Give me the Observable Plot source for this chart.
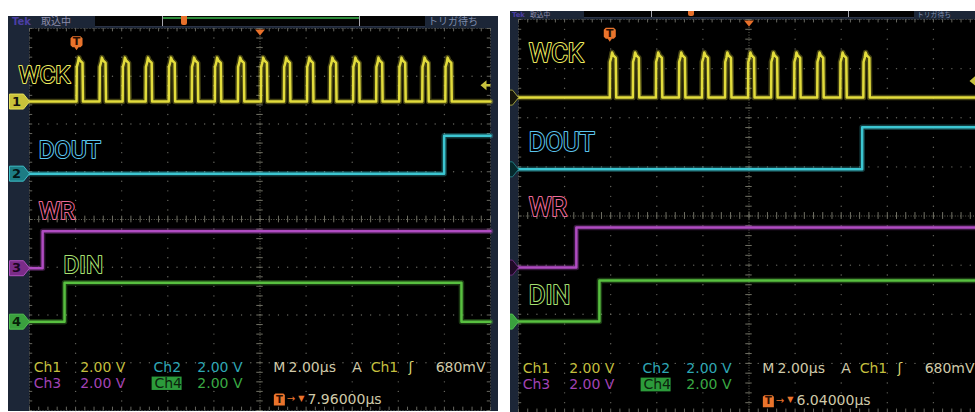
<!DOCTYPE html>
<html><head><meta charset="utf-8">
<script src="https://cdn.jsdelivr.net/npm/d3@7"></script>
<script src="https://cdn.jsdelivr.net/npm/@observablehq/plot@0.6"></script>
<style>
body{margin:0;background:#fff;}
#root{position:relative;width:975px;height:412px;overflow:hidden;background:#fff;}
.clip{position:absolute;overflow:hidden;}
.scope{position:absolute;background:#1c2637;width:492px;}
.scope svg{position:absolute;left:0;top:0;}
.hdr{position:absolute;left:0;top:0;width:492px;overflow:hidden;}
.hdr span{position:absolute;top:0;white-space:nowrap;font-family:"DejaVu Sans","Noto Sans CJK JP";}
.tek{font-weight:bold;color:#4b3ea3;}
.acq{color:#8c8caa;}
.wait{left:420px;color:#7d8bab;}
.box{position:absolute;left:87px;top:0;width:330px;background:#030303;border-bottom:1px solid #2b3346;}
.brk{position:absolute;top:0;width:1px;background:#a8a8b0;}
.grn{position:absolute;left:154px;top:1px;width:198px;height:2px;background:#2f8c3c;}
.omark{position:absolute;top:0;width:6px;background:#e8702a;border-radius:0 0 2px 2px;}
</style>
</head><body>
<div id="root"></div>
<script>
// ---------- data (times in µs relative to trigger, levels in volts) ----------
const timePerDiv = 2;                 // µs / div
const voltsPerDiv = 2;                // V / div (all channels)
const triggerDelayLeft = 7.96;        // µs
const triggerDelayRight = 6.04;       // µs
const triggerLevel = 0.68;            // V on Ch1

const signalNames = ["WCK", "DOUT", "WR", "DIN"];
const channelColors = ["#e2dc3c", "#3cc6d2", "#b04cc2", "#58c040"];
const labelColors = ["#ecea5c", "#5ac4ee", "#ee6a98", "#a6e070"];

// WCK rising edges (µs)
const wckRiseLeft = [0, 1, 2, 3, 4, 5, 6, 7, 8, 9, 10, 11, 12, 13, 14, 15, 16];
const wckRiseRight = [0, 1, 2, 3, 4, 5, 6, 7, 8, 9, 10, 11];
// one WCK pulse: [µs after edge, volts]
const wckPulseShape = [[0, 0], [0.01, 1.45], [0.06, 1.62], [0.1, 1.84], [0.15, 1.72], [0.26, 1.62], [0.28, 0]];

// step signals: [time µs, level V]
const doutLeft = [[-2.04, 0], [15.95, 1.59], [17.96, 1.59]];
const wrLeft = [[-2.04, 0], [-1.47, 1.55], [17.96, 1.55]];
const dinLeft = [[-2.04, 0], [-0.52, 1.63], [16.7, 0], [17.96, 0]];
const doutRight = [[-3.96, 0], [10.95, 1.71], [16.04, 1.71]];
const wrRight = [[-3.96, 0], [-1.45, 1.63], [16.04, 1.63]];
const dinRight = [[-3.96, 0], [-0.45, 1.67], [16.04, 1.67]];

// channel ground positions (divisions from screen centre): Ch1..Ch4
const channelOffsetsLeft = [2.47, 0.96, -1.02, -2.14];
const channelOffsetsRight = [2.41, 0.95, -1.05, -2.15];

// signal name labels: [screen div from left, div from centre]
const labelPosLeft = [[-0.24, 3.02], [0.2, 1.45], [0.2, 0.17], [0.74, -0.96]];
const labelPosRight = [[0.22, 3.3], [0.22, 1.48], [0.22, 0.17], [0.22, -1.62]];

// readout texts: [screen div x, div y, text, colour]
const readoutTexts = [
  [0.09, -3.11, "Ch1", "#c4bf3e"], [1.1, -3.11, "2.00 V", "#c4bf3e"],
  [0.09, -3.44, "Ch3", "#a243b4"], [1.1, -3.44, "2.00 V", "#a243b4"],
  [2.69, -3.11, "Ch2", "#2ea6b4"], [3.64, -3.11, "2.00 V", "#2ea6b4"],
  [2.71, -3.44, "Ch4", "#0b230c"], [3.64, -3.44, "2.00 V", "#3aa944"],
  [5.29, -3.11, "M", "#cfc9a8"], [5.62, -3.11, "2.00µs", "#cfc9a8"],
  [7.0, -3.11, "A", "#cfc9a8"], [7.4, -3.11, "Ch1", "#c4bf3e"],
  [8.22, -3.11, "ʃ", "#d8d070"], [8.81, -3.11, "680mV", "#cfc9a8"]
];

// ---------- custom symbols ----------
const symChMarker = {draw(c) { c.moveTo(-20, -7.5); c.lineTo(-6, -7.5); c.lineTo(0, 0); c.lineTo(-6, 7.5); c.lineTo(-20, 7.5); c.closePath(); }};
const symTrigLevel = {draw(c) { c.moveTo(-10, 0); c.lineTo(-4, -5); c.lineTo(-4, -1.2); c.lineTo(0, -1.2); c.lineTo(0, 1.2); c.lineTo(-4, 1.2); c.lineTo(-4, 5); c.closePath(); }};
const symTopTri = {draw(c) { c.moveTo(-5, 0); c.lineTo(5, 0); c.lineTo(0, 6); c.closePath(); }};
const symTBox = {draw(c) { c.moveTo(-4, -6); c.lineTo(4, -6); c.lineTo(6, -4); c.lineTo(6, 3); c.lineTo(4, 5); c.lineTo(2, 5); c.lineTo(0, 8); c.lineTo(-2, 5); c.lineTo(-4, 5); c.lineTo(-6, 3); c.lineTo(-6, -4); c.closePath(); }};
const symTBoxSmall = {draw(c) { c.moveTo(-4, -6); c.lineTo(4, -6); c.lineTo(5.5, -4.5); c.lineTo(5.5, 6); c.lineTo(-5.5, 6); c.lineTo(-5.5, -4.5); c.closePath(); }};

const panels = [
  {clip: [8, 16, 490, 396], inner: [0, 0], hdrH: 12, gridH: 382, delay: triggerDelayLeft,
   offsets: channelOffsetsLeft, rises: wckRiseLeft, steps: [doutLeft, wrLeft, dinLeft],
   labelPos: labelPosLeft, labelSize: 24, hdrMarker: 173, hdrFont: 10, tekLeft: 4, acqLeft: 33, green: true,
   markerFill: ["#c9c23a", "#1d7c84", "#7a2c88", "#3aa03e"], markerStroke: ["#e6e05a", "#3dbfc8", "#b050c0", "#50c050"],
   markerText: ["1", "2", "3", "4"], markerTextFill: ["#111", "#041416", "#1a0620", "#082008"]},
  {clip: [510, 11, 465, 401], inner: [-13, 0], hdrH: 8, gridH: 393, delay: triggerDelayRight,
   offsets: channelOffsetsRight, rises: wckRiseRight, steps: [doutRight, wrRight, dinRight],
   labelPos: labelPosRight, labelSize: 25.5, hdrMarker: 191, hdrFont: 6.8, tekLeft: 15, acqLeft: 33, green: false,
   markerFill: ["#15150a", "#06282c", "#1f0a26", "#3aa03e"], markerStroke: ["#9a9a3a", "#1f7a80", "#6a2a7a", "#50c050"],
   markerText: null}
];

function build(p) {
  const H = p.hdrH + p.gridH + 1;
  const tLeft = p.delay - 5 * timePerDiv;
  const tRight = tLeft + 10 * timePerDiv;
  const X = d => tLeft + timePerDiv * d;
  const off = p.offsets;
  const V = (ch, v) => off[ch] + v / voltsPerDiv;

  const minorX = d3.range(0, 51).map(i => i / 5);
  const minorY = d3.range(-20, 21).map(i => i / 5);
  const gridDots = [];
  for (const gx of [1, 2, 3, 4, 6, 7, 8, 9]) for (const gy of minorY) gridDots.push([gx, gy]);
  for (const gy of [-3, -2, -1, 1, 2, 3]) for (const gx of minorX) gridDots.push([gx, gy]);

  const wckPts = [[tLeft, 0]];
  for (const r of p.rises) for (const [dt, v] of wckPulseShape) wckPts.push([r + dt, v]);
  wckPts.push([tRight, 0]);

  const traces = [];
  const addTrace = (pts, ch, curve) => {
    traces.push(Plot.line(pts, {x: d => d[0], y: d => V(ch, d[1]), stroke: channelColors[ch], strokeWidth: 5.5, strokeOpacity: 0.3, curve}));
    traces.push(Plot.line(pts, {x: d => d[0], y: d => V(ch, d[1]), stroke: channelColors[ch], strokeWidth: 2.5, curve}));
  };
  addTrace(wckPts, 0, "linear");
  p.steps.forEach((s, i) => addTrace(s, i + 1, "step-after"));

  const labels = signalNames.map((name, i) => ({text: name, x: p.labelPos[i][0], y: p.labelPos[i][1], color: labelColors[i]}));
  const markers = off.map((o, i) => ({y: o, fill: p.markerFill[i], stroke: p.markerStroke[i],
    text: p.markerText ? p.markerText[i] : "", tfill: p.markerTextFill ? p.markerTextFill[i] : "none"}));
  const readouts = readoutTexts.map(([x, y, text, color]) => ({x, y, text, color}));
  readouts.push({x: 6.03, y: -3.76, text: p.delay.toFixed(5) + "µs", color: "#cfc9a8"});

  const gridC = "#66665f";
  const svg = Plot.plot({
    width: 492, height: H,
    marginLeft: 21, marginRight: 10, marginTop: p.hdrH, marginBottom: 1,
    x: {domain: [tLeft, tRight], axis: null},
    y: {domain: [-4, 4], axis: null},
    color: {type: "identity"},
    style: {background: "transparent", overflow: "visible"},
    marks: [
      Plot.frame({fill: "#000"}),
      Plot.dot(gridDots, {x: d => X(d[0]), y: d => d[1], r: 0.7, fill: gridC, stroke: null}),
      Plot.ruleY([0], {stroke: "#66665a", strokeDasharray: "1,1.6"}),
      Plot.ruleX([X(5)], {stroke: "#66665a", strokeDasharray: "1,1.6"}),
      Plot.ruleX(minorX, {x: d => X(d), y1: -0.07, y2: 0.07, stroke: "#707064"}),
      Plot.ruleY(minorY, {y: d => d, x1: X(5) - 0.14, x2: X(5) + 0.14, stroke: "#707064"}),
      Plot.ruleX(minorX, {x: d => X(d), y1: 4, y2: 3.93, stroke: gridC}),
      Plot.ruleX(minorX, {x: d => X(d), y1: -4, y2: -3.93, stroke: gridC}),
      Plot.ruleY(minorY, {y: d => d, x1: tLeft, x2: tLeft + 0.14, stroke: gridC}),
      Plot.ruleY(minorY, {y: d => d, x1: tRight - 0.14, x2: tRight, stroke: gridC}),
      Plot.frame({stroke: "#5a5a54", strokeDasharray: "1,2"}),
      ...traces,
      Plot.text(labels, {x: d => X(d.x), y: "y", text: "text", stroke: "color", fill: "#000", strokeWidth: 2,
        paintOrder: "stroke", fontSize: p.labelSize, fontFamily: "Roboto", textAnchor: "start", lineAnchor: "middle"}),
      Plot.dot(markers, {x: () => tLeft, y: "y", symbol: symChMarker, fill: "fill", stroke: "stroke", strokeWidth: 1}),
      Plot.text(markers, {x: () => tLeft, y: "y", text: "text", fill: "tfill", dx: -13, fontSize: 13, fontWeight: "bold", fontFamily: "DejaVu Sans"}),
      Plot.dot([triggerLevel], {x: () => tRight, y: d => V(0, d), symbol: symTrigLevel, fill: "#c8c23e", stroke: null}),
      Plot.dot([p.delay], {x: d => d, y: () => 4, symbol: symTopTri, fill: "#e8702a", stroke: null, dy: 1}),
      Plot.dot([0], {x: d => d, y: () => 3.71, symbol: symTBox, fill: "#ea742c", stroke: null}),
      Plot.text([0], {x: d => d, y: () => 3.71, text: () => "T", fill: "#2a0e02", fontWeight: "bold", fontSize: 11, fontFamily: "DejaVu Sans", dy: -0.5}),
      Plot.rect([[2.66, 3.31, -3.3, -3.58]], {x1: d => X(d[0]), x2: d => X(d[1]), y1: d => d[2], y2: d => d[3], fill: "#2c9b3b"}),
      Plot.text(readouts, {x: d => X(d.x), y: "y", text: "text", fill: "color", fontSize: 14, fontFamily: "DejaVu Sans", textAnchor: "start", lineAnchor: "middle"}),
      Plot.dot([5.42], {x: d => X(d), y: () => -3.77, symbol: symTBoxSmall, fill: "#ea742c", stroke: null}),
      Plot.text([5.42], {x: d => X(d), y: () => -3.77, text: () => "T", fill: "#2a0e02", fontWeight: "bold", fontSize: 10, fontFamily: "DejaVu Sans"}),
      Plot.text([5.58], {x: d => X(d), y: () => -3.76, text: () => "→", fill: "#ea742c", fontSize: 10, fontFamily: "DejaVu Sans", textAnchor: "start"}),
      Plot.text([5.83], {x: d => X(d), y: () => -3.74, text: () => "▼", fill: "#ea742c", fontSize: 8, fontFamily: "DejaVu Sans", textAnchor: "start"})
    ]
  });

  const clip = document.createElement("div");
  clip.className = "clip";
  Object.assign(clip.style, {left: p.clip[0] + "px", top: p.clip[1] + "px", width: p.clip[2] + "px", height: p.clip[3] + "px"});
  const inner = document.createElement("div");
  inner.className = "scope";
  Object.assign(inner.style, {left: p.inner[0] + "px", top: p.inner[1] + "px", height: H + "px"});
  inner.appendChild(svg);
  const h = p.hdrH;
  const ts = `font-size:${p.hdrFont}px;line-height:${h}px;height:${h}px;`;
  inner.insertAdjacentHTML("beforeend",
    `<div class="hdr" style="height:${h}px">` +
    `<span class="tek" style="${ts}left:${p.tekLeft}px">Tek</span>` +
    `<span class="acq" style="${ts}left:${p.acqLeft}px">取込中</span>` +
    `<div class="box" style="height:${h - 2}px"></div>` +
    (p.green ? `<div class="grn"></div>` : ``) +
    `<div class="brk" style="left:154px;height:${h - 2}px"></div>` +
    `<div class="brk" style="left:351px;height:${h - 2}px"></div>` +
    `<div class="omark" style="left:${p.hdrMarker}px;height:${h - 3}px"></div>` +
    `<span class="wait" style="${ts}">トリガ待ち</span></div>`);
  clip.appendChild(inner);
  document.getElementById("root").appendChild(clip);
}
panels.forEach(build);
</script>
</body></html>
